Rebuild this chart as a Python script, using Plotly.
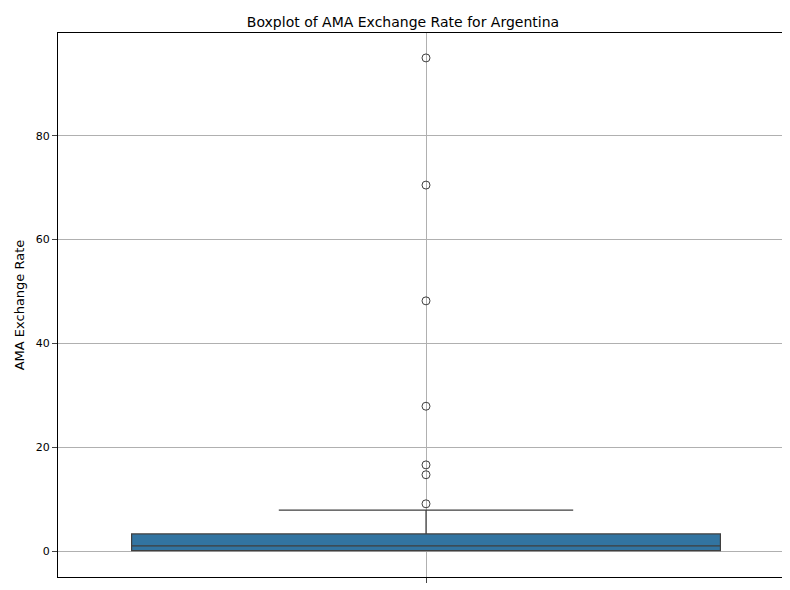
import plotly.graph_objects as go

q1 = [0.1]
median = [1.0]
q3 = [3.3]
lower = [0.1]
upper = [7.9]
outliers = [9.1, 14.7, 16.6, 27.9, 48.2, 70.5, 95.0]

fig = go.Figure()
fig.add_trace(go.Box(x=[0], q1=q1, median=median, q3=q3, lowerfence=lower, upperfence=upper,
                     width=0.8, whiskerwidth=0.5, fillcolor="#3274a1",
                     line=dict(color="#3f3f3f", width=1.2), boxpoints=False, showlegend=False))
fig.add_trace(go.Scatter(x=[0]*len(outliers), y=outliers, mode="markers",
                         marker=dict(symbol="circle-open", size=8, color="#3f3f3f", line=dict(width=1)),
                         showlegend=False))
fig.update_layout(
    width=790, height=590, plot_bgcolor="white", paper_bgcolor="white",
    margin=dict(l=50, r=4, t=25, b=21),
    font=dict(family="DejaVu Sans", size=11, color="black"),
    title=dict(text="Boxplot of AMA Exchange Rate for Argentina", x=0.5, xanchor="center", y=0.985, font=dict(size=14)),
)
fig.update_xaxes(range=[-0.5, 0.5], tickvals=[0], ticktext=[""], ticks="outside", showgrid=True,
                 gridcolor="#b0b0b0", mirror=True, showline=True, linecolor="black", zeroline=False,
                 automargin=False)
fig.update_yaxes(range=[-5, 99.8], tickvals=[0, 20, 40, 60, 80], ticks="outside", showgrid=True,
                 gridcolor="#b0b0b0", mirror=True, showline=True, linecolor="black", zeroline=False,
                 automargin=False, title=dict(text="AMA Exchange Rate", standoff=8))
fig.write_html("out.html")
